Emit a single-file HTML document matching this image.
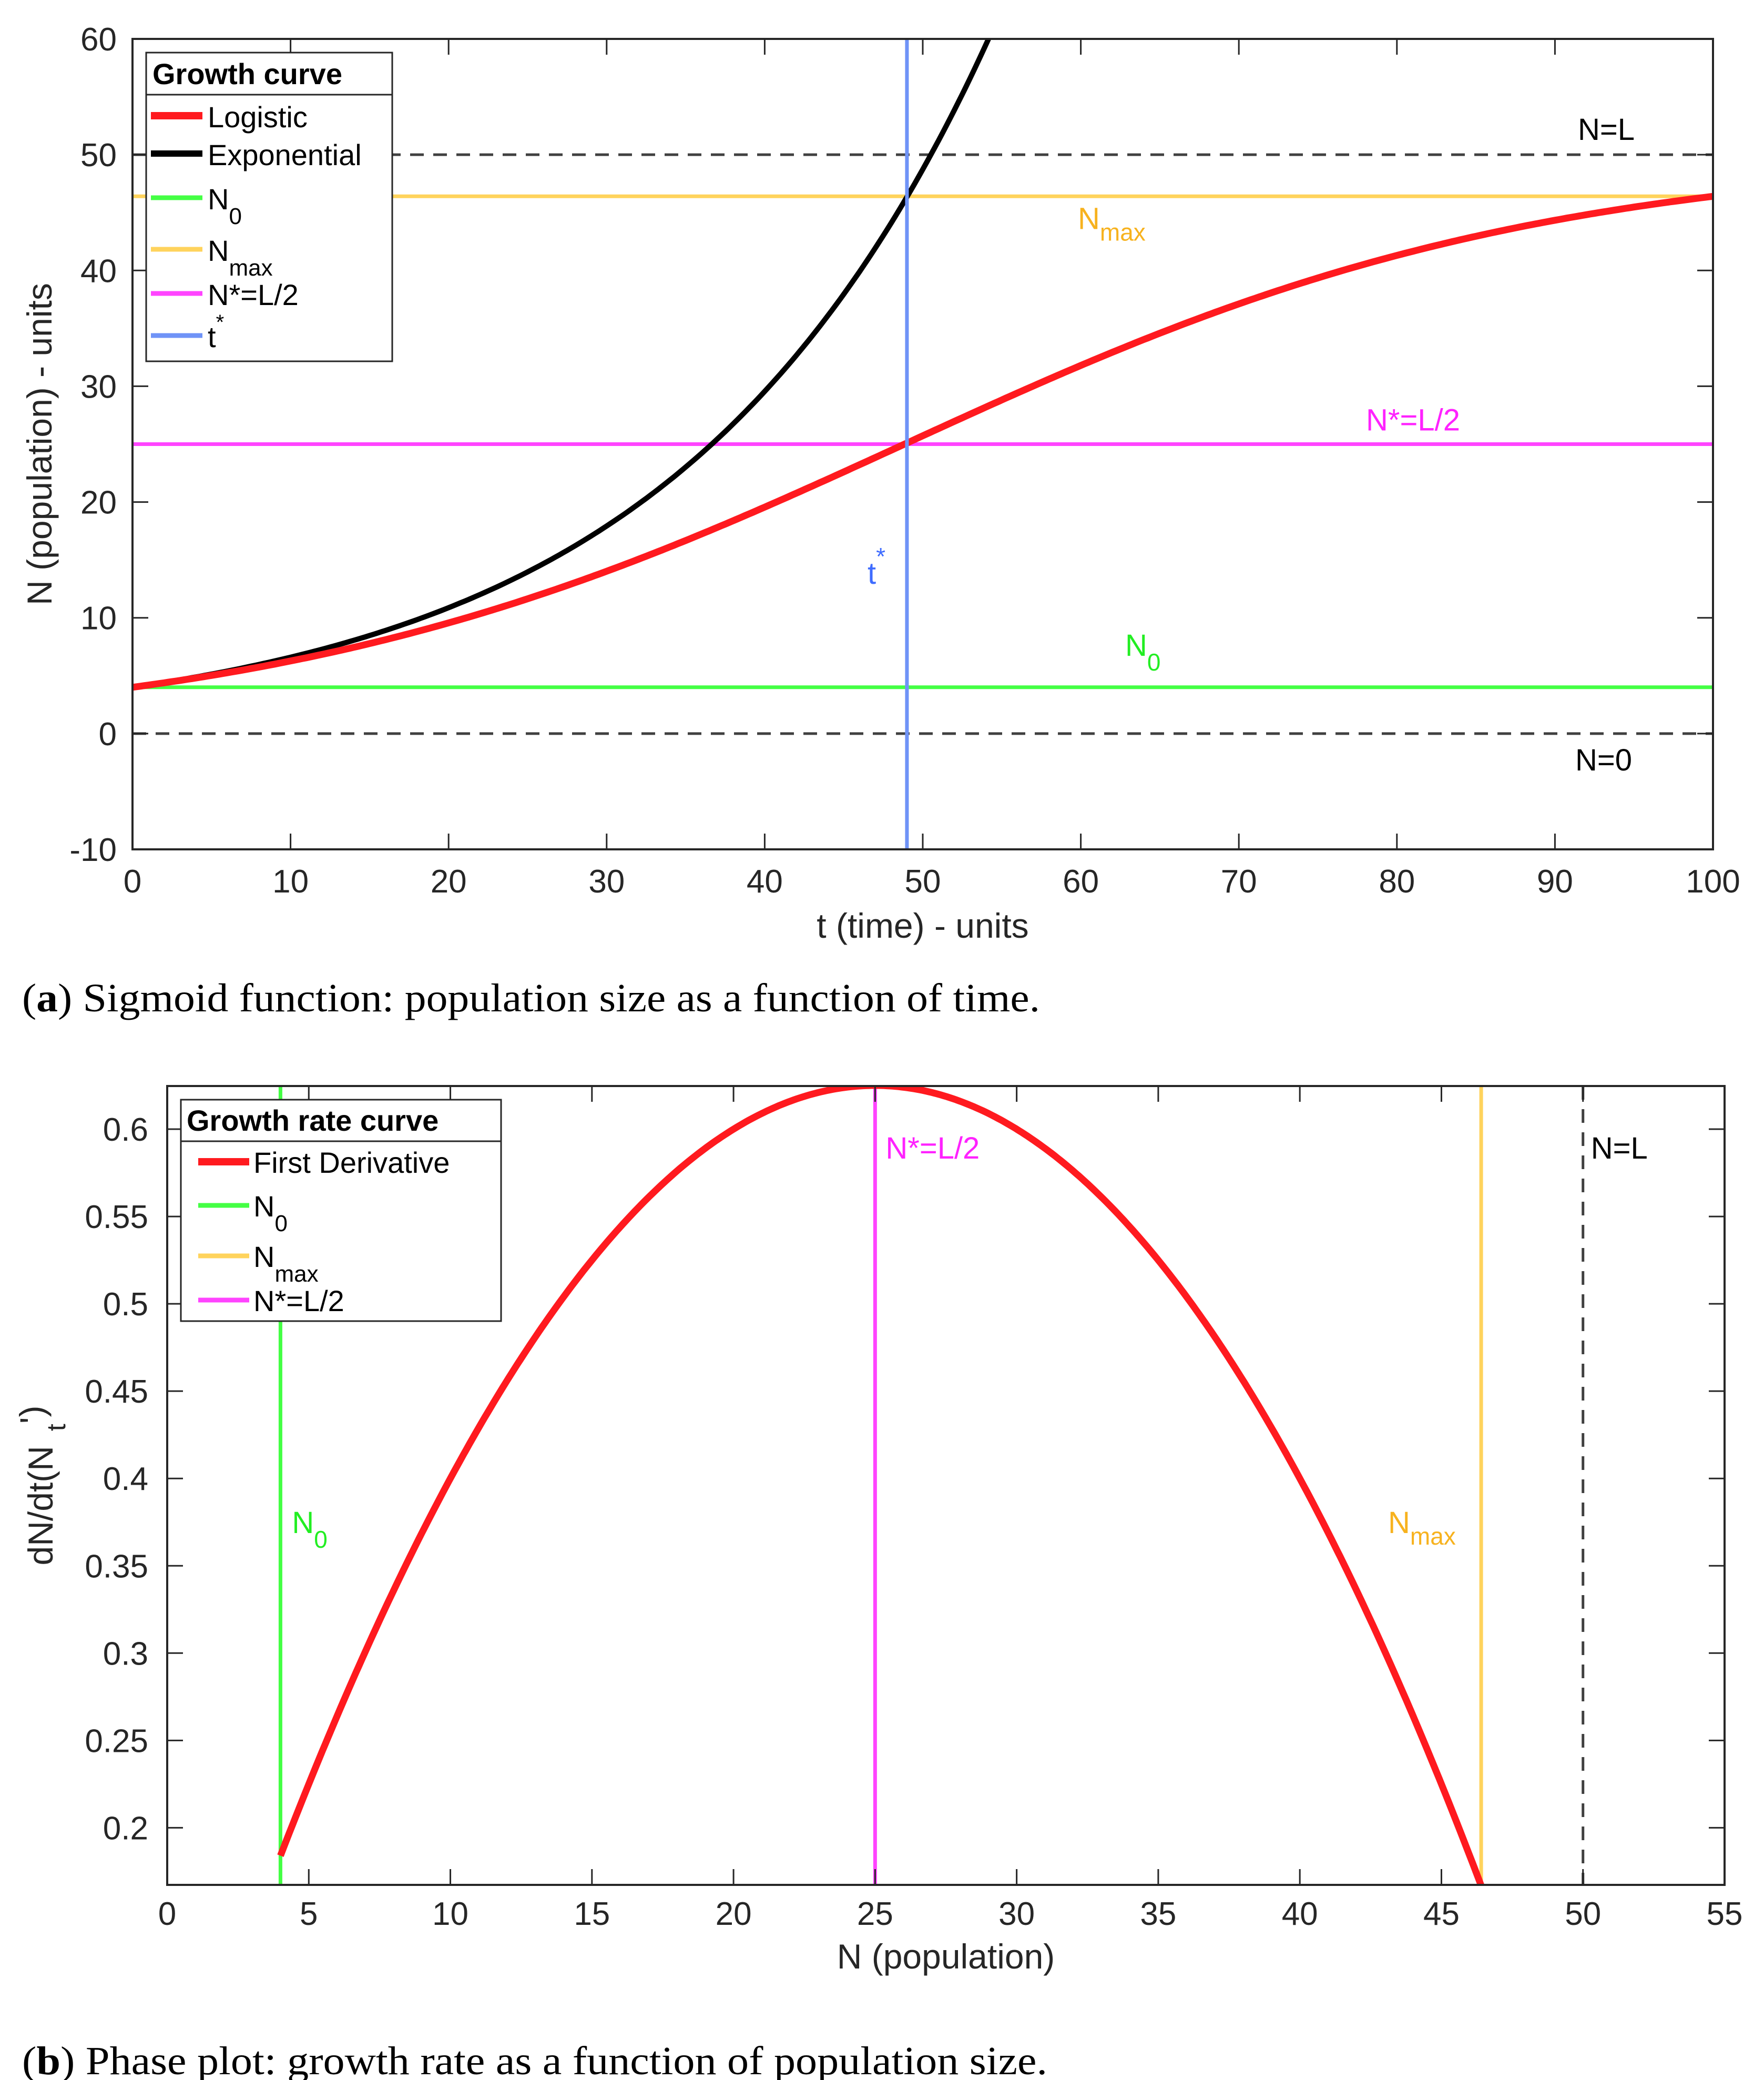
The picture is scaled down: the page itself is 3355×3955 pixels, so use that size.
<!DOCTYPE html>
<html><head><meta charset="utf-8">
<style>
html,body{margin:0;padding:0;background:#fff;}
svg{display:block;font-family:"Liberation Sans",Arial,sans-serif;}
</style></head>
<body>
<svg id="fig" width="3355" height="3955" viewBox="0 0 3355 3955" xmlns="http://www.w3.org/2000/svg">
<g id="pa"></g>
<g id="pb"></g>
<text x="42" y="1923" font-family="Liberation Serif,serif" font-size="76" textLength="1936" lengthAdjust="spacingAndGlyphs" fill="#000">(<tspan font-weight="bold">a</tspan>) Sigmoid function: population size as a function of time.</text>
<text x="42" y="3944" font-family="Liberation Serif,serif" font-size="76" textLength="1950" lengthAdjust="spacingAndGlyphs" fill="#000">(<tspan font-weight="bold">b</tspan>) Phase plot: growth rate as a function of population size.</text>
</svg>
<script>
// ---- data ----
const L_cap = [50];
const N0_val = [4];
const r_val = [0.05];
const tStar = [49];
const tRange = [0, 100];
const Nrange = [-10, 60];
const xTicksA = [0,10,20,30,40,50,60,70,80,90,100];
const yTicksA = [-10,0,10,20,30,40,50,60];
const xTicksB = [0,5,10,15,20,25,30,35,40,45,50,55];
const yTicksB = [0.2,0.25,0.3,0.35,0.4,0.45,0.5,0.55,0.6];
const yTickLabelsB = ['0.2','0.25','0.3','0.35','0.4','0.45','0.5','0.55','0.6'];
const NrangeB = [0, 55];
const dRangeB = [0.1673, 0.6247];

const NS="http://www.w3.org/2000/svg";
function el(p,tag,attrs){const e=document.createElementNS(NS,tag);for(const k in attrs)e.setAttribute(k,attrs[k]);p.appendChild(e);return e;}
const L=L_cap[0],N0=N0_val[0],r=r_val[0];
function logistic(t){return L/(1+((L-N0)/N0)*Math.exp(-r*t));}
function expo(t){return N0*Math.exp(r*t);}
const Nmax=logistic(tRange[1]);
const AX='#262626';

// ===== Plot A =====
(function(){
const g=document.getElementById('pa');
const x0=252,x1=3258,y0=74,y1=1615;
const X=v=>x0+(v-tRange[0])/(tRange[1]-tRange[0])*(x1-x0);
const Y=v=>y1-(v-Nrange[0])/(Nrange[1]-Nrange[0])*(y1-y0);
const clip=el(g,'clipPath',{id:'ca'});el(clip,'rect',{x:x0,y:y0,width:x1-x0,height:y1-y0});
const pg=el(g,'g',{'clip-path':'url(#ca)'});
let l;
l=el(pg,'line',{x1:x0,x2:x1,y1:Y(L),y2:Y(L),stroke:'#404040','stroke-width':5,'stroke-dasharray':'26 18'});

l=el(pg,'line',{x1:x0,x2:x1,y1:Y(0),y2:Y(0),stroke:'#404040','stroke-width':5,'stroke-dasharray':'26 18'});

l=el(pg,'line',{x1:x0,x2:x1,y1:Y(Nmax),y2:Y(Nmax),stroke:'#ffd35c','stroke-width':7});

l=el(pg,'line',{x1:x0,x2:x1,y1:Y(L/2),y2:Y(L/2),stroke:'#ff44ff','stroke-width':7});

l=el(pg,'line',{x1:x0,x2:x1,y1:Y(N0),y2:Y(N0),stroke:'#44ff44','stroke-width':7});

let d='';for(let i=0;i<=400;i++){const t=tRange[0]+i*(tRange[1]-tRange[0])/400;d+=(i?'L':'M')+X(t).toFixed(1)+','+Y(expo(t)).toFixed(1);}
l=el(pg,'path',{d:d,fill:'none',stroke:'#000','stroke-width':10});

d='';for(let i=0;i<=400;i++){const t=tRange[0]+i*(tRange[1]-tRange[0])/400;d+=(i?'L':'M')+X(t).toFixed(1)+','+Y(logistic(t)).toFixed(1);}
l=el(pg,'path',{d:d,fill:'none',stroke:'#ff1a1f','stroke-width':13});

l=el(pg,'line',{x1:X(tStar[0]),x2:X(tStar[0]),y1:y0,y2:y1,stroke:'#6f93f7','stroke-width':7});

l=el(g,'rect',{x:x0,y:y0,width:x1-x0,height:y1-y0,fill:'none',stroke:AX,'stroke-width':4});

xTicksA.forEach(v=>{const x=X(v);
 el(g,'line',{x1:x,x2:x,y1:y1,y2:y1-30,stroke:AX,'stroke-width':3});
 el(g,'line',{x1:x,x2:x,y1:y0,y2:y0+30,stroke:AX,'stroke-width':3});
 const t=el(g,'text',{x:x,y:1697,'text-anchor':'middle','font-size':62,fill:AX});t.textContent=v;
 });
yTicksA.forEach(v=>{const y=Y(v);
 el(g,'line',{x1:x0,x2:x0+30,y1:y,y2:y,stroke:AX,'stroke-width':3});
 el(g,'line',{x1:x1,x2:x1-30,y1:y,y2:y,stroke:AX,'stroke-width':3});
 const t=el(g,'text',{x:222,y:y+22,'text-anchor':'end','font-size':62,fill:AX});t.textContent=v;
 });
let t=el(g,'text',{x:(x0+x1)/2,y:1783,'text-anchor':'middle','font-size':66,fill:AX});t.textContent='t (time) - units';

t=el(g,'text',{x:0,y:0,'text-anchor':'middle','font-size':66,fill:AX,transform:'translate(98,'+((y0+y1)/2)+') rotate(-90)'});t.textContent='N (population) - units';

t=el(g,'text',{x:3055,y:Y(L)-28,'text-anchor':'middle','font-size':58,fill:'#000'});t.textContent='N=L';

t=el(g,'text',{x:3050,y:Y(0)+70,'text-anchor':'middle','font-size':58,fill:'#000'});t.textContent='N=0';

t=el(g,'text',{x:2050,y:Y(Nmax)+62,'font-size':58,fill:'#f7b21e'});t.innerHTML='N<tspan font-size="46" dy="22">max</tspan>';

t=el(g,'text',{x:2598,y:Y(L/2)-26,'font-size':58,fill:'#ff22ff'});t.textContent='N*=L/2';

t=el(g,'text',{x:1650,y:1110,'font-size':58,fill:'#3f6cff'});t.innerHTML='t<tspan font-size="46" dy="-36">*</tspan>';

t=el(g,'text',{x:2140,y:1247,'font-size':58,fill:'#22ee22'});t.innerHTML='N<tspan font-size="46" dy="28">0</tspan>';

const lg=el(g,'g',{});

el(lg,'rect',{x:278,y:100,width:468,height:587,fill:'#fff',stroke:AX,'stroke-width':3});
el(lg,'line',{x1:278,x2:746,y1:180,y2:180,stroke:AX,'stroke-width':3});
t=el(lg,'text',{x:290,y:160,'font-size':56,'font-weight':'bold',fill:'#000'});t.textContent='Growth curve';

const ents=[['Logistic','#ff1a1f',14,220,''],['Exponential','#000',12,292,''],['N','#44ff44',9,376,'0'],['N','#ffd35c',9,474,'max'],['N*=L/2','#ff44ff',9,558,''],['t','#6f93f7',9,638,'*']];
ents.forEach(e=>{el(lg,'line',{x1:287,x2:385,y1:e[3],y2:e[3],stroke:e[1],'stroke-width':e[2]});
 const tx=el(lg,'text',{x:395,y:e[3]+22,'font-size':56,fill:'#000'});
 if(e[4]==='*'){tx.innerHTML='t<tspan font-size="40" dy="-34">*</tspan>';}
 else if(e[4]){tx.innerHTML='N<tspan font-size="44" dy="28">'+e[4]+'</tspan>';}
 else tx.textContent=e[0];
 });
})();

// ===== Plot B =====
(function(){
const g=document.getElementById('pb');
const x0=318,x1=3280,y0=2065,y1=3584;
const X=v=>x0+(v-NrangeB[0])/(NrangeB[1]-NrangeB[0])*(x1-x0);
const Y=v=>y1-(v-dRangeB[0])/(dRangeB[1]-dRangeB[0])*(y1-y0);
const clip=el(g,'clipPath',{id:'cb'});el(clip,'rect',{x:x0,y:y0,width:x1-x0,height:y1-y0});
const pg=el(g,'g',{'clip-path':'url(#cb)'});
let l;
l=el(pg,'line',{x1:X(L),x2:X(L),y1:y0,y2:y1,stroke:'#404040','stroke-width':5,'stroke-dasharray':'26 18'});

l=el(pg,'line',{x1:X(N0),x2:X(N0),y1:y0,y2:y1,stroke:'#44ff44','stroke-width':7});

l=el(pg,'line',{x1:X(Nmax),x2:X(Nmax),y1:y0,y2:y1,stroke:'#ffd35c','stroke-width':7});

l=el(pg,'line',{x1:X(L/2),x2:X(L/2),y1:y0,y2:y1,stroke:'#ff44ff','stroke-width':7});

let d='';for(let i=0;i<=400;i++){const N=N0+i*(Nmax-N0)/400;d+=(i?'L':'M')+X(N).toFixed(1)+','+Y(r*N*(1-N/L)).toFixed(1);}
l=el(pg,'path',{d:d,fill:'none',stroke:'#ff1a1f','stroke-width':13});

l=el(g,'rect',{x:x0,y:y0,width:x1-x0,height:y1-y0,fill:'none',stroke:AX,'stroke-width':4});

xTicksB.forEach(v=>{const x=X(v);
 el(g,'line',{x1:x,x2:x,y1:y1,y2:y1-30,stroke:AX,'stroke-width':3});
 el(g,'line',{x1:x,x2:x,y1:y0,y2:y0+30,stroke:AX,'stroke-width':3});
 const t=el(g,'text',{x:x,y:3660,'text-anchor':'middle','font-size':62,fill:AX});t.textContent=v;
 });
yTicksB.forEach((v,i)=>{const y=Y(v);
 el(g,'line',{x1:x0,x2:x0+30,y1:y,y2:y,stroke:AX,'stroke-width':3});
 el(g,'line',{x1:x1,x2:x1-30,y1:y,y2:y,stroke:AX,'stroke-width':3});
 const t=el(g,'text',{x:282,y:y+22,'text-anchor':'end','font-size':62,fill:AX});t.textContent=yTickLabelsB[i];
 });
let t=el(g,'text',{x:(x0+x1)/2,y:3743,'text-anchor':'middle','font-size':66,fill:AX});t.textContent='N (population)';

t=el(g,'text',{x:0,y:0,'text-anchor':'middle','font-size':66,fill:AX,transform:'translate(100,'+((y0+y1)/2)+') rotate(-90)'});t.innerHTML='dN/dt(N<tspan font-size="50" dy="24" dx="28">t</tspan><tspan dy="-40">\')</tspan>';

t=el(g,'text',{x:X(L/2)+20,y:2203,'font-size':58,fill:'#ff22ff'});t.textContent='N*=L/2';

t=el(g,'text',{x:X(L)+15,y:2203,'font-size':58,fill:'#000'});t.textContent='N=L';

t=el(g,'text',{x:X(N0)+22,y:2915,'font-size':58,fill:'#22ee22'});t.innerHTML='N<tspan font-size="46" dy="28">0</tspan>';

t=el(g,'text',{x:2640,y:2915,'font-size':58,fill:'#f7b21e'});t.innerHTML='N<tspan font-size="46" dy="22">max</tspan>';

const lg=el(g,'g',{});

el(lg,'rect',{x:344,y:2091,width:609,height:421,fill:'#fff',stroke:AX,'stroke-width':3});
el(lg,'line',{x1:344,x2:953,y1:2170,y2:2170,stroke:AX,'stroke-width':3});
t=el(lg,'text',{x:355,y:2150,'font-size':56,'font-weight':'bold',fill:'#000'});t.textContent='Growth rate curve';

const ents=[['First Derivative','#ff1a1f',14,2209,''],['N','#44ff44',9,2292,'0'],['N','#ffd35c',9,2388,'max'],['N*=L/2','#ff44ff',9,2472,'']];
ents.forEach(e=>{el(lg,'line',{x1:377,x2:474,y1:e[3],y2:e[3],stroke:e[1],'stroke-width':e[2]});
 const tx=el(lg,'text',{x:482,y:e[3]+21,'font-size':56,fill:'#000'});
 if(e[4]){tx.innerHTML='N<tspan font-size="44" dy="28">'+e[4]+'</tspan>';} else tx.textContent=e[0];
 });
})();
</script>
</body></html>
